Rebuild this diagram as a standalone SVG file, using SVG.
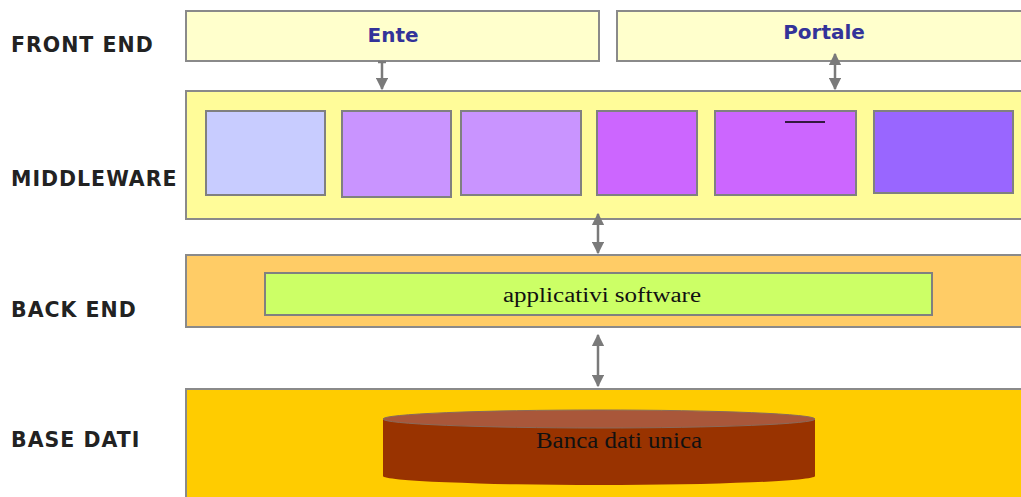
<svg xmlns="http://www.w3.org/2000/svg" width="1021" height="497" viewBox="0 0 1021 497">
<style>
.lbl{font-family:"DejaVu Sans",Verdana,sans-serif;font-weight:bold;font-size:20.5px;fill:#222;letter-spacing:1px}
.fe{fill:#FFFFCC;stroke:#8a8a8a;stroke-width:2}
.layer{stroke:#8a8a8a;stroke-width:2}
.mod{stroke:#808080;stroke-width:2}
.t1{font-family:"DejaVu Sans",Verdana,sans-serif;font-weight:bold;font-size:20px;fill:#333399;text-anchor:middle}
.t2{font-family:"Liberation Serif","Times New Roman",serif;fill:#111}
.conn{stroke:#7a7a7a;stroke-width:2.5;fill:none}
.dbl{marker-start:url(#ah);marker-end:url(#ah)}
</style>
<defs>
<marker id="ah" viewBox="0 0 10 10" refX="9" refY="5" markerWidth="5" markerHeight="5" orient="auto-start-reverse" markerUnits="strokeWidth">
<path d="M0,0 L10,5 L0,10 z" fill="#7a7a7a"/>
</marker>
</defs>
<rect width="1021" height="497" fill="#ffffff"/>
<g id="labels">
<text class="lbl" x="11" y="52">FRONT END</text>
<text class="lbl" x="11" y="186">MIDDLEWARE</text>
<text class="lbl" x="11" y="317">BACK END</text>
<text class="lbl" x="11" y="447">BASE DATI</text>
</g>
<g id="ente"><rect class="fe" x="186" y="11" width="413" height="50"/><text class="t1" x="393" y="42">Ente</text></g>
<g id="portale"><rect class="fe" x="617" y="11" width="410" height="50"/><text class="t1" x="824" y="39">Portale</text></g>
<g id="middleware">
<rect class="layer" x="186" y="91" width="840" height="128" fill="#FFFC99"/>
<rect class="mod" x="206" y="111" width="119" height="84" fill="#C8CCFF"/>
<rect class="mod" x="342" y="111" width="109" height="86" fill="#C994FF"/>
<rect class="mod" x="461" y="111" width="120" height="84" fill="#C994FF"/>
<rect class="mod" x="597" y="111" width="100" height="84" fill="#CC66FF"/>
<rect class="mod" x="715" y="111" width="141" height="84" fill="#CC66FF"/>
<line x1="785" y1="122" x2="825" y2="122" stroke="#000" stroke-width="1.5"/>
<rect class="mod" x="874" y="111" width="139" height="82" fill="#9966FF"/>
</g>
<g id="backend">
<rect class="layer" x="186" y="255" width="840" height="72" fill="#FFCC66"/>
<rect class="mod" x="265" y="273" width="667" height="42" fill="#CCFF66"/>
<text class="t2" x="503" y="302" font-size="20" textLength="198" lengthAdjust="spacingAndGlyphs">applicativi software</text>
</g>
<g id="basedati">
<rect class="layer" x="186" y="389" width="840" height="112" fill="#FFCC00"/>
<path d="M383,419 L383,476 A216,9 0 0 0 815,476 L815,419 Z" fill="#993300"/>
<ellipse cx="599" cy="419" rx="216" ry="9" fill="#A9573A" stroke="#8a6a5a" stroke-width="1"/>
<text class="t2" x="536" y="448" font-size="23" textLength="166" lengthAdjust="spacingAndGlyphs">Banca dati  unica</text>
</g>
<g id="connectors">
<line class="conn" x1="382" y1="62" x2="382" y2="89" marker-end="url(#ah)"/>
<line class="conn" x1="378" y1="62" x2="386" y2="62"/>
<line class="conn dbl" x1="835" y1="54" x2="835" y2="89"/>
<line class="conn dbl" x1="598" y1="214" x2="598" y2="253"/>
<line class="conn dbl" x1="598" y1="335" x2="598" y2="386"/>
</g>
</svg>
